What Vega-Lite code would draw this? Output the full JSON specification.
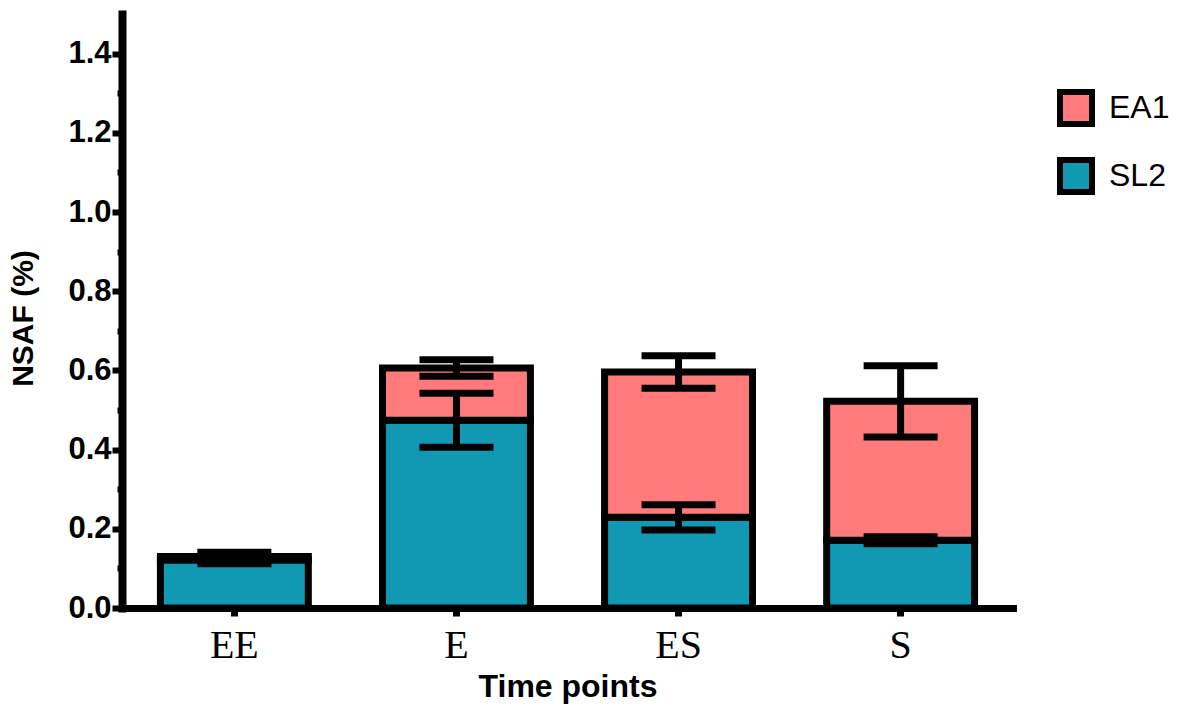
{
  "$schema": "https://vega.github.io/schema/vega-lite/v6.json",
  "width": 891,
  "height": 594,
  "autosize": {"type": "none"},
  "padding": {"left": 122, "top": 14, "right": 167, "bottom": 99},
  "background": "white",
  "config": {"view": {"stroke": null}},
  "data": {
    "values": [
      {"time": "EE", "series": "SL2", "value": 0.121, "err": 0.009},
      {"time": "EE", "series": "EA1", "value": 0.009, "err": 0.011},
      {"time": "E", "series": "SL2", "value": 0.474, "err": 0.068},
      {"time": "E", "series": "EA1", "value": 0.132, "err": 0.021},
      {"time": "ES", "series": "SL2", "value": 0.229, "err": 0.032},
      {"time": "ES", "series": "EA1", "value": 0.367, "err": 0.041},
      {"time": "S", "series": "SL2", "value": 0.171, "err": 0.009},
      {"time": "S", "series": "EA1", "value": 0.351, "err": 0.09}
    ]
  },
  "transform": [
    {"stack": "value", "groupby": ["time"], "sort": [{"field": "series", "order": "descending"}], "as": ["y0", "y1"]}
  ],
  "encoding": {
    "x": {
      "field": "time",
      "type": "nominal",
      "sort": ["EE", "E", "ES", "S"],
      "scale": {"paddingInner": 0.334, "paddingOuter": 0.173},
      "axis": {
        "title": "Time points",
        "labelAngle": 0,
        "tickSize": 8,
        "tickWidth": 7,
        "tickColor": "black",
        "domainColor": "black",
        "domainWidth": 7,
        "domainCap": "square",
        "labelFont": "Liberation Serif",
        "labelFontSize": 40,
        "labelFontWeight": "normal",
        "labelColor": "black",
        "labelPadding": 9,
        "titleFont": "Liberation Sans",
        "titleFontWeight": "bold",
        "titleFontSize": 32,
        "titleColor": "black",
        "titlePadding": 6
      }
    }
  },
  "layer": [
    {
      "mark": {"type": "bar", "stroke": "black", "strokeWidth": 7},
      "encoding": {
        "y": {
          "field": "y1",
          "type": "quantitative",
          "scale": {"domain": [0, 1.5], "nice": false},
          "title": "NSAF (%)",
          "axis": {
            "values": [0, 0.1, 0.2, 0.3, 0.4, 0.5, 0.6, 0.7, 0.8, 0.9, 1.0, 1.1, 1.2, 1.3, 1.4],
            "labelExpr": "round(datum.value*10) % 2 == 0 ? format(datum.value, '.1f') : ''",
            "tickSize": {"condition": {"test": "round(datum.value*10) % 2 == 1", "value": 5}, "value": 10},
            "tickWidth": 6,
            "tickColor": "black",
            "domainColor": "black",
            "domainWidth": 8,
            "domainCap": "square",
            "grid": false,
            "labelFont": "Liberation Sans",
            "labelFontWeight": "bold",
            "labelFontSize": 31,
            "labelColor": "black",
            "labelPadding": 1,
            "titleFont": "Liberation Sans",
            "titleFontWeight": "bold",
            "titleFontSize": 30,
            "titleColor": "black",
            "titlePadding": 29,
            "titleY": 304
          }
        },
        "y2": {"field": "y0"},
        "color": {
          "field": "series",
          "type": "nominal",
          "scale": {"domain": ["EA1", "SL2"], "range": ["#FF7B7B", "#1198B3"]},
          "legend": {
            "title": null,
            "orient": "none",
            "legendX": 935,
            "legendY": 75,
            "padding": 0,
            "symbolType": "square",
            "symbolSize": 1024,
            "symbolStrokeWidth": 6,
            "symbolStrokeColor": "black",
            "symbolOpacity": 1,
            "labelFont": "Liberation Sans",
            "labelFontSize": 32,
            "labelColor": "black",
            "labelOffset": 14,
            "rowPadding": 12
          }
        }
      }
    },
    {
      "mark": {"type": "errorbar", "color": "black", "opacity": 1, "thickness": 7, "ticks": {"size": 74, "thickness": 7, "color": "black", "opacity": 1}},
      "encoding": {
        "y": {"field": "y1", "type": "quantitative", "title": "NSAF (%)"},
        "yError": {"field": "err"}
      }
    }
  ]
}
